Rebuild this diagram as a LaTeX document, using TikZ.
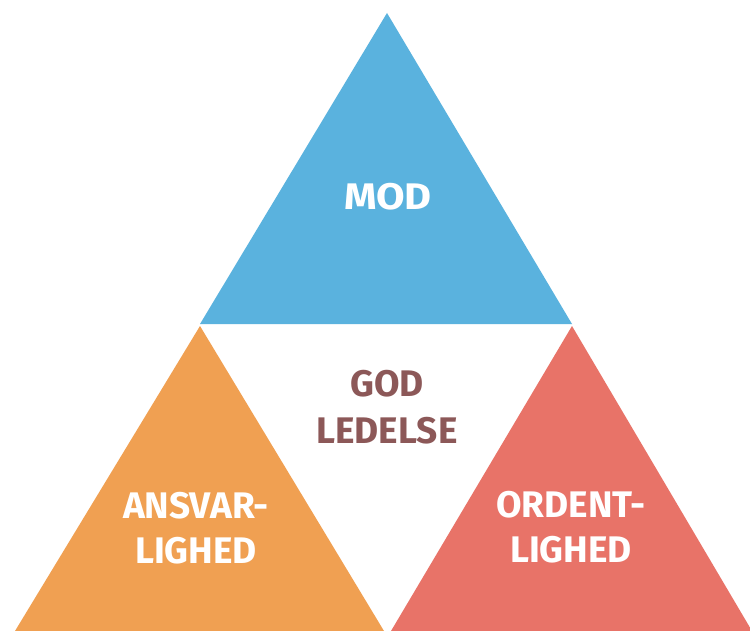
\documentclass[tikz,border=0pt]{standalone}
\usepackage{fontspec}
\setmainfont{Fira Sans}
\begin{document}
\begin{tikzpicture}[x=1pt,y=-1pt,
  lbl/.style={font=\fontsize{37}{45}\selectfont\bfseries, text=white, align=center, inner sep=0pt},
  mid/.style={lbl, text=godbrown}]
\definecolor{modblue}{RGB}{90,178,222}
\definecolor{ansorange}{RGB}{240,160,82}
\definecolor{ordred}{RGB}{232,115,104}
\definecolor{godbrown}{RGB}{140,88,88}
\useasboundingbox (0,0) rectangle (750,631);
\fill[white] (0,0) rectangle (750,631);
% corners
\coordinate (tA) at (387,13);
\coordinate (tL) at (200,324);
\coordinate (tR) at (572,324);
\coordinate (lA) at (200,326);
\coordinate (lL) at (15,631);
\coordinate (lR) at (384,631);
\coordinate (rA) at (572,326);
\coordinate (rL) at (391,631);
\coordinate (rR) at (752,631);
\fill[modblue] (tA) -- (tL) -- (tR) -- cycle;
\fill[ansorange] (lA) -- (lL) -- (lR) -- cycle;
\fill[ordred] (rA) -- (rL) -- (rR) -- cycle;
% labels
\node[lbl, transform shape, xscale=1.12] (mod) at (388,197) {MOD};
\node[mid] (god) at (387,384) {GOD};
\node[mid] (led) at (387,431) {LEDELSE};
\node[lbl] (ans) at (196,528) {ANSVAR-\\LIGHED};
\node[lbl] (ord) at (571,527) {ORDENT-\\LIGHED};
\end{tikzpicture}
\end{document}
